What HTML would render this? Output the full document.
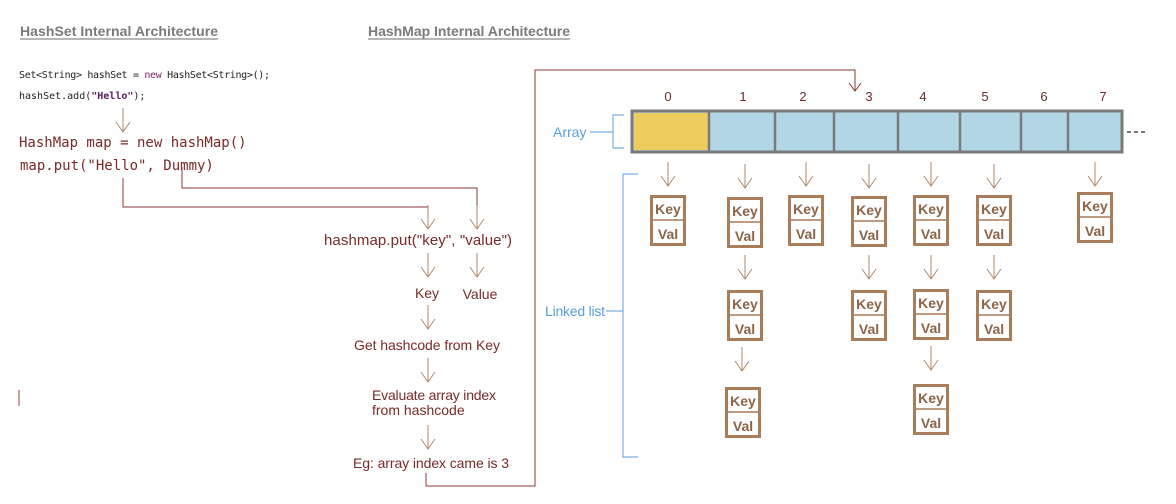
<!DOCTYPE html>
<html><head><meta charset="utf-8"><style>
body{margin:0;background:#fff;width:1176px;height:504px;overflow:hidden}
svg{display:block}
.t{font-family:"Liberation Sans",sans-serif}
.m{font-family:"DejaVu Sans Mono","Liberation Mono",monospace}
</style></head><body>
<svg width="1176" height="504" xmlns="http://www.w3.org/2000/svg">
<defs>
<g id="ar"><line x1="0" y1="0" x2="0" y2="24" stroke="#b08a6c" stroke-width="1"/><polyline points="-7,14 0,24 7,14" fill="none" stroke="#b08a6c" stroke-width="1"/></g>
<g id="kv"><rect x="1.5" y="1.5" width="33" height="48" fill="#fff" stroke="#a97c5a" stroke-width="3"/><line x1="2" y1="25" x2="34" y2="25" stroke="#a97c5a" stroke-width="1.5"/><text x="18" y="19" text-anchor="middle" class="t" font-size="14" font-weight="bold" fill="#8c6448">Key</text><text x="18" y="44" text-anchor="middle" class="t" font-size="14" font-weight="bold" fill="#8c6448">Val</text></g>
</defs>
<text x="20" y="36" class="t" font-size="14" font-weight="bold" fill="#7a7a7a" textLength="198">HashSet Internal Architecture</text>
<line x1="20" y1="39" x2="218" y2="39" stroke="#8a8a8a" stroke-width="1.2"/>
<text x="368" y="36" class="t" font-size="14" font-weight="bold" fill="#7a7a7a" textLength="202">HashMap Internal Architecture</text>
<line x1="368" y1="39" x2="570" y2="39" stroke="#8a8a8a" stroke-width="1.2"/>
<text x="19" y="78" class="m" font-size="10" fill="#222" textLength="251">Set&lt;String&gt; hashSet = <tspan fill="#7a1f6a">new</tspan> HashSet&lt;String&gt;();</text>
<text x="19" y="99" class="m" font-size="10" fill="#222">hashSet.add(<tspan fill="#5a1f5a" font-weight="bold">"Hello"</tspan>);</text>
<use href="#ar" x="123" y="108"/>
<text x="19" y="147" class="m" font-size="14" fill="#7a2a2a">HashMap map = new hashMap()</text>
<text x="20" y="170" class="m" font-size="14" fill="#7a2a2a">map.put("Hello", Dummy)</text>
<polyline points="123,178 123,207 428,207 428,218" fill="none" stroke="#8b3a3a" stroke-width="1"/>
<polyline points="182,167 182,188 477,188 477,218" fill="none" stroke="#8b3a3a" stroke-width="1"/>
<use href="#ar" x="428" y="205"/><use href="#ar" x="477" y="205"/>
<text x="324" y="245" class="t" font-size="15" fill="#7a2a2a" textLength="188">hashmap.put("key", "value")</text>
<use href="#ar" x="428" y="253"/><use href="#ar" x="477" y="253"/>
<text x="427" y="298" text-anchor="middle" class="t" font-size="14" fill="#7a2a2a">Key</text>
<text x="480" y="299" text-anchor="middle" class="t" font-size="14" fill="#7a2a2a">Value</text>
<use href="#ar" x="428" y="305"/>
<text x="354" y="350" class="t" font-size="14" fill="#7a2a2a" textLength="146">Get hashcode from Key</text>
<use href="#ar" x="428" y="358"/>
<text x="372" y="400" class="t" font-size="14" fill="#7a2a2a" textLength="124">Evaluate array index</text>
<text x="372" y="415" class="t" font-size="14" fill="#7a2a2a">from hashcode</text>
<use href="#ar" x="428" y="425"/>
<text x="353" y="468" class="t" font-size="14" fill="#7a2a2a" textLength="156">Eg: array index came is 3</text>
<polyline points="426,473 426,486 535,486 535,70 855,70 855,90" fill="none" stroke="#8b3a3a" stroke-width="1"/>
<polyline points="849,83 855,91 861,83" fill="none" stroke="#8b3a3a" stroke-width="1"/>
<line x1="19" y1="390" x2="19" y2="406" stroke="#c08080" stroke-width="1.5"/>
<g class="t" font-size="13" fill="#6a2a2a" text-anchor="middle">
<text x="668" y="101">0</text><text x="743" y="101">1</text><text x="803" y="101">2</text><text x="869" y="101">3</text><text x="923" y="101">4</text><text x="985" y="101">5</text><text x="1044" y="101">6</text><text x="1103" y="101">7</text></g>
<rect x="632" y="111" width="490" height="41" fill="#b3d6e5" stroke="#7a7a7a" stroke-width="3"/>
<rect x="634" y="113" width="75" height="37" fill="#efcc5e"/>
<g stroke="#7a7a7a" stroke-width="2.5"><line x1="709" y1="111" x2="709" y2="152"/><line x1="775" y1="111" x2="775" y2="152"/><line x1="834" y1="111" x2="834" y2="152"/><line x1="898" y1="111" x2="898" y2="152"/><line x1="960" y1="111" x2="960" y2="152"/><line x1="1021" y1="111" x2="1021" y2="152"/><line x1="1068" y1="111" x2="1068" y2="152"/></g>
<g stroke="#777" stroke-width="2"><line x1="1127" y1="132" x2="1131" y2="132"/><line x1="1134" y1="132" x2="1138" y2="132"/><line x1="1141" y1="132" x2="1145" y2="132"/></g>
<polyline points="624,115 613,115 613,148 624,148" fill="none" stroke="#7ab0e0" stroke-width="1.2"/>
<line x1="590" y1="132" x2="613" y2="132" stroke="#7ab0e0" stroke-width="1.2"/>
<text x="553" y="137" class="t" font-size="14" fill="#5a9ee0">Array</text>
<polyline points="638,174 623,174 623,457 638,457" fill="none" stroke="#7ab0e0" stroke-width="1.2"/>
<line x1="606" y1="311" x2="623" y2="311" stroke="#7ab0e0" stroke-width="1.2"/>
<text x="545" y="316" class="t" font-size="14" fill="#5a9ee0" textLength="60">Linked list</text>
<use href="#ar" x="668" y="162"/><use href="#ar" x="745" y="164"/><use href="#ar" x="806" y="162"/><use href="#ar" x="869" y="164"/><use href="#ar" x="931" y="162"/><use href="#ar" x="994" y="164"/><use href="#ar" x="1095" y="162"/>
<use href="#kv" x="650" y="195"/><use href="#kv" x="727" y="197"/><use href="#kv" x="788" y="195"/><use href="#kv" x="851" y="196"/><use href="#kv" x="913" y="195"/><use href="#kv" x="976" y="195"/><use href="#kv" x="1077" y="192"/>
<use href="#ar" x="745" y="255"/><use href="#ar" x="869" y="255"/><use href="#ar" x="931" y="255"/><use href="#ar" x="994" y="255"/>
<use href="#kv" x="727" y="290"/><use href="#kv" x="851" y="290"/><use href="#kv" x="913" y="289"/><use href="#kv" x="976" y="290"/>
<use href="#ar" x="742" y="347"/><use href="#ar" x="931" y="346"/>
<use href="#kv" x="725" y="387"/><use href="#kv" x="913" y="384"/>
</svg>
</body></html>
